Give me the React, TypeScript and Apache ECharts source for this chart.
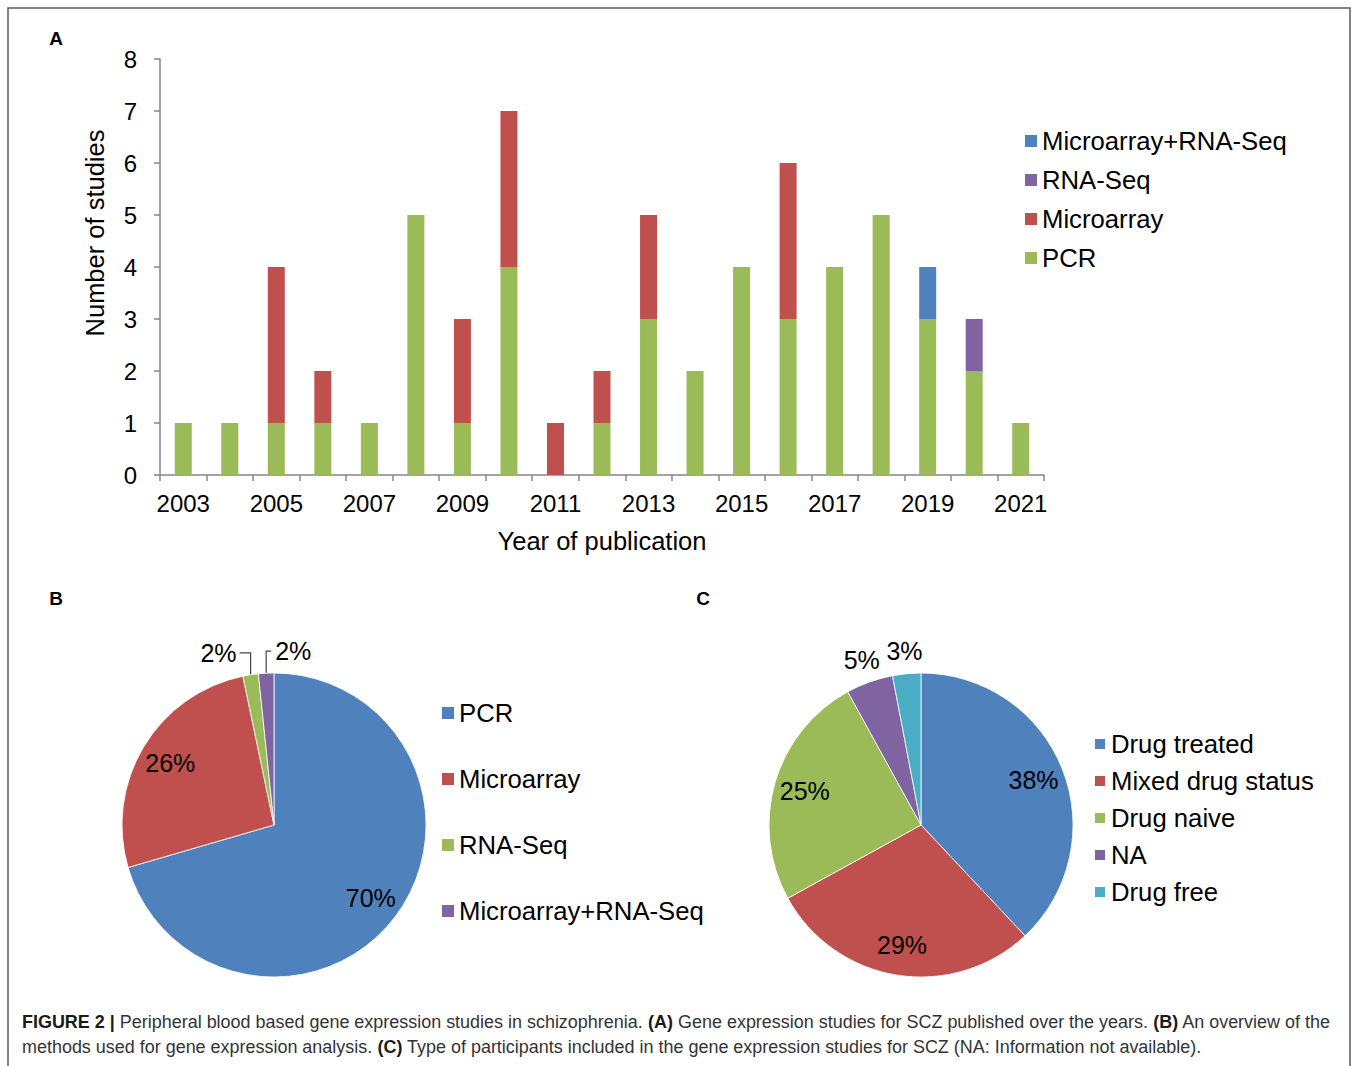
import React, { useEffect, useRef } from 'react';
import * as echarts from 'echarts';

// ---------- Data ----------
const years = ['2003', '2004', '2005', '2006', '2007', '2008', '2009', '2010', '2011', '2012', '2013', '2014', '2015', '2016', '2017', '2018', '2019', '2020', '2021'];
const pcrCounts = [1, 1, 1, 1, 1, 5, 1, 4, 0, 1, 3, 2, 4, 3, 4, 5, 3, 2, 1];
const microarrayCounts = [0, 0, 3, 1, 0, 0, 2, 3, 1, 1, 2, 0, 0, 3, 0, 0, 0, 0, 0];
const rnaSeqCounts = [0, 0, 0, 0, 0, 0, 0, 0, 0, 0, 0, 0, 0, 0, 0, 0, 0, 1, 0];
const microRnaSeqCounts = [0, 0, 0, 0, 0, 0, 0, 0, 0, 0, 0, 0, 0, 0, 0, 0, 1, 0, 0];

const methodNames = ['PCR', 'Microarray', 'RNA-Seq', 'Microarray+RNA-Seq'];
const methodTotals = [43, 16, 1, 1];

const participantNames = ['Drug treated', 'Mixed drug status', 'Drug naive', 'NA', 'Drug free'];
const participantShares = [38, 29, 25, 5, 3];

const barLegendOrder = ['Microarray+RNA-Seq', 'RNA-Seq', 'Microarray', 'PCR'];

// ---------- Styles ----------
const FONT = "'Liberation Sans', Arial, Helvetica, sans-serif";
const BLUE = '#4F81BD';
const RED = '#C0504D';
const GREEN = '#9BBB59';
const PURPLE = '#8064A2';
const AQUA = '#4BACC6';
const AXIS_GREY = '#868686';

const barColors: Record<string, string> = {
  PCR: GREEN,
  Microarray: RED,
  'RNA-Seq': PURPLE,
  'Microarray+RNA-Seq': BLUE,
};
const pieBColors = [BLUE, RED, GREEN, PURPLE];
const pieCColors = [BLUE, RED, GREEN, PURPLE, AQUA];

const captionLine1 = [
  { b: true, t: 'FIGURE 2 |' },
  { b: false, t: ' Peripheral blood based gene expression studies in schizophrenia. ' },
  { b: true, t: '(A)' },
  { b: false, t: ' Gene expression studies for SCZ published over the years. ' },
  { b: true, t: '(B)' },
  { b: false, t: ' An overview of the' },
];
const captionLine2 = [
  { b: false, t: 'methods used for gene expression analysis. ' },
  { b: true, t: '(C)' },
  { b: false, t: ' Type of participants included in the gene expression studies for SCZ (NA: Information not available).' },
];

const CAP_SIZE = 18.5;

function measureSegments(segs: { b: boolean; t: string }[]) {
  const c = document.createElement('canvas').getContext('2d');
  if (!c) return 1309;
  let w = 0;
  segs.forEach((s) => {
    c.font = `${s.b ? 'bold ' : ''}${CAP_SIZE}px ${FONT}`;
    w += c.measureText(s.t).width;
  });
  return w;
}

function richText(segs: { b: boolean; t: string }[]) {
  return segs.map((s) => `{${s.b ? 'b' : 'r'}|${s.t}}`).join('');
}

export default function App() {
  const ref = useRef<HTMLDivElement>(null);

  useEffect(() => {
    document.body.style.margin = '0';
    if (!ref.current) return;
    const chart = echarts.init(ref.current, undefined, { renderer: 'svg' });

    const w1 = measureSegments(captionLine1);
    const capScale = 1309 / w1;
    const captionRich = {
      b: { fontFamily: FONT, fontSize: CAP_SIZE, fontWeight: 'bold', fill: '#1a1a1a' },
      r: { fontFamily: FONT, fontSize: CAP_SIZE, fill: '#333333' },
    };

    const barSeriesDefs = [
      { name: 'PCR', data: pcrCounts },
      { name: 'Microarray', data: microarrayCounts },
      { name: 'RNA-Seq', data: rnaSeqCounts },
      { name: 'Microarray+RNA-Seq', data: microRnaSeqCounts },
    ];

    const pieLabelStyle = { fontFamily: FONT, fontSize: 25, color: '#000' };
    const legendText = { fontFamily: FONT, fontSize: 25.7, color: '#000', lineHeight: 26 };

    const option: any = {
      animation: false,
      backgroundColor: '#fff',
      textStyle: { fontFamily: FONT },
      grid: { left: 160, top: 59, width: 884, height: 416, containLabel: false },
      xAxis: {
        type: 'category',
        data: years,
        boundaryGap: true,
        name: 'Year of publication',
        nameLocation: 'middle',
        nameGap: 53,
        nameTextStyle: { fontFamily: FONT, fontSize: 25.5, color: '#000' },
        axisLine: { lineStyle: { color: AXIS_GREY, width: 1.5 } },
        axisTick: { show: true, interval: 0, length: 6, alignWithLabel: false, lineStyle: { color: AXIS_GREY, width: 1.5 } },
        axisLabel: { interval: 1, fontFamily: FONT, fontSize: 24, color: '#000', margin: 16 },
        splitLine: { show: false },
      },
      yAxis: {
        type: 'value',
        min: 0,
        max: 8,
        interval: 1,
        axisLine: { show: true, lineStyle: { color: AXIS_GREY, width: 1.5 } },
        axisTick: { show: true, length: 6, lineStyle: { color: AXIS_GREY, width: 1.5 } },
        axisLabel: { fontFamily: FONT, fontSize: 24, color: '#000', margin: 23 },
        splitLine: { show: false },
      },
      legend: [
        {
          orient: 'vertical',
          left: 1025,
          top: 128,
          padding: 0,
          itemWidth: 12,
          itemHeight: 12,
          itemGap: 13,
          icon: 'rect',
          selectedMode: false,
          textStyle: legendText,
          data: barLegendOrder.map((n) => ({ name: n, itemStyle: { color: barColors[n] } })),
        },
        {
          orient: 'vertical',
          left: 442,
          top: 700,
          padding: 0,
          itemWidth: 12,
          itemHeight: 12,
          itemGap: 40,
          icon: 'rect',
          selectedMode: false,
          textStyle: legendText,
          data: methodNames.map((n, i) => ({ name: n, itemStyle: { color: pieBColors[i] } })),
        },
        {
          orient: 'vertical',
          left: 1093,
          top: 731,
          padding: 0,
          itemWidth: 12,
          itemHeight: 12,
          itemGap: 11,
          icon: 'rect',
          selectedMode: false,
          textStyle: legendText,
          data: participantNames.map((n, i) => ({ name: n, itemStyle: { color: pieCColors[i] } })),
        },
      ],
      series: [
        ...barSeriesDefs.map((s) => ({
          type: 'bar',
          name: s.name,
          stack: 'total',
          data: s.data,
          barWidth: 17,
          itemStyle: { color: barColors[s.name] },
          emphasis: { disabled: true },
        })),
        // Pie B main
        {
          type: 'pie',
          name: 'methods',
          center: [274, 825],
          radius: 152,
          startAngle: 90,
          clockwise: true,
          percentPrecision: 0,
          avoidLabelOverlap: false,
          emphasis: { disabled: true },
          itemStyle: { borderColor: '#fff', borderWidth: 0.8 },
          label: { show: true, position: 'outside', formatter: '{d}%', ...pieLabelStyle },
          labelLine: { show: true, length: 10, length2: 8, lineStyle: { color: '#444', width: 1.2 } },
          labelLayout: (p: any) => {
            const pts = p.labelLinePoints;
            if (!pts || (p.dataIndex !== 2 && p.dataIndex !== 3)) return {};
            const x0 = pts[0][0];
            const y0 = pts[0][1];
            const yT = y0 - 22;
            if (p.dataIndex === 2) {
              return {
                x: x0 - 14,
                y: yT,
                align: 'right',
                verticalAlign: 'middle',
                labelLinePoints: [[x0, y0], [x0, yT], [x0 - 11, yT]],
              };
            }
            return {
              x: x0 + 9,
              y: yT,
              align: 'left',
              verticalAlign: 'middle',
              labelLinePoints: [[x0, y0], [x0, yT], [x0 + 5, yT]],
            };
          },
          data: methodNames.map((n, i) => ({
            name: n,
            value: methodTotals[i],
            itemStyle: { color: pieBColors[i] },
            label: { show: i >= 2 },
            labelLine: { show: i >= 2 },
          })),
        },
        // Pie B inner labels (transparent overlay)
        {
          type: 'pie',
          name: 'methodsLabels',
          center: [274, 825],
          radius: [84, 152],
          startAngle: 90,
          clockwise: true,
          percentPrecision: 0,
          silent: true,
          avoidLabelOverlap: false,
          itemStyle: { color: 'rgba(0,0,0,0)', borderWidth: 0 },
          label: { show: true, position: 'inside', formatter: '{d}%', ...pieLabelStyle },
          labelLine: { show: false },
          data: methodNames.map((n, i) => ({
            name: n,
            value: methodTotals[i],
            label: { show: i < 2 },
          })),
        },
        // Pie C main
        {
          type: 'pie',
          name: 'participants',
          center: [921, 825],
          radius: 152,
          startAngle: 90,
          clockwise: true,
          emphasis: { disabled: true },
          itemStyle: { borderColor: '#fff', borderWidth: 0.8 },
          label: { show: false },
          labelLine: { show: false },
          data: participantNames.map((n, i) => ({
            name: n,
            value: participantShares[i],
            itemStyle: { color: pieCColors[i] },
          })),
        },
        // Pie C inner labels
        {
          type: 'pie',
          name: 'participantsInner',
          center: [921, 825],
          radius: [84, 152],
          startAngle: 90,
          clockwise: true,
          percentPrecision: 0,
          silent: true,
          avoidLabelOverlap: false,
          itemStyle: { color: 'rgba(0,0,0,0)', borderWidth: 0 },
          label: { show: true, position: 'inside', formatter: '{d}%', ...pieLabelStyle },
          labelLine: { show: false },
          data: participantNames.map((n, i) => ({
            name: n,
            value: participantShares[i],
            label: { show: i < 3 },
          })),
        },
        // Pie C outer labels
        {
          type: 'pie',
          name: 'participantsOuter',
          center: [921, 825],
          radius: [152, 192],
          startAngle: 90,
          clockwise: true,
          percentPrecision: 0,
          silent: true,
          avoidLabelOverlap: false,
          itemStyle: { color: 'rgba(0,0,0,0)', borderWidth: 0 },
          label: { show: true, position: 'inside', formatter: '{d}%', ...pieLabelStyle },
          labelLine: { show: false },
          data: participantNames.map((n, i) => ({
            name: n,
            value: participantShares[i],
            label: { show: i >= 3 },
          })),
        },
      ],
      graphic: [
        {
          type: 'rect',
          silent: true,
          shape: { x: 8, y: 8, width: 1342, height: 1080 },
          style: { fill: 'none', stroke: '#5a5a5a', lineWidth: 1.5 },
        },
        {
          type: 'text',
          x: 95,
          y: 233,
          rotation: Math.PI / 2,
          style: { text: 'Number of studies', fontFamily: FONT, fontSize: 25.5, fill: '#000', align: 'center', verticalAlign: 'middle' },
        },
        { type: 'text', x: 56, y: 38, style: { text: 'A', fontFamily: FONT, fontSize: 19, fontWeight: 'bold', fill: '#000', align: 'center', verticalAlign: 'middle' } },
        { type: 'text', x: 56, y: 598, style: { text: 'B', fontFamily: FONT, fontSize: 19, fontWeight: 'bold', fill: '#000', align: 'center', verticalAlign: 'middle' } },
        { type: 'text', x: 703, y: 598, style: { text: 'C', fontFamily: FONT, fontSize: 19, fontWeight: 'bold', fill: '#000', align: 'center', verticalAlign: 'middle' } },
        {
          type: 'text',
          x: 22,
          y: 1021,
          scaleX: capScale,
          style: { text: richText(captionLine1), rich: captionRich, fontFamily: FONT, fontSize: CAP_SIZE, verticalAlign: 'middle', align: 'left' },
        },
        {
          type: 'text',
          x: 22,
          y: 1046,
          scaleX: capScale,
          style: { text: richText(captionLine2), rich: captionRich, fontFamily: FONT, fontSize: CAP_SIZE, verticalAlign: 'middle', align: 'left' },
        },
      ],
    };

    chart.setOption(option);
    return () => chart.dispose();
  }, []);

  return <div ref={ref} style={{ width: 1358, height: 1066 }} />;
}
